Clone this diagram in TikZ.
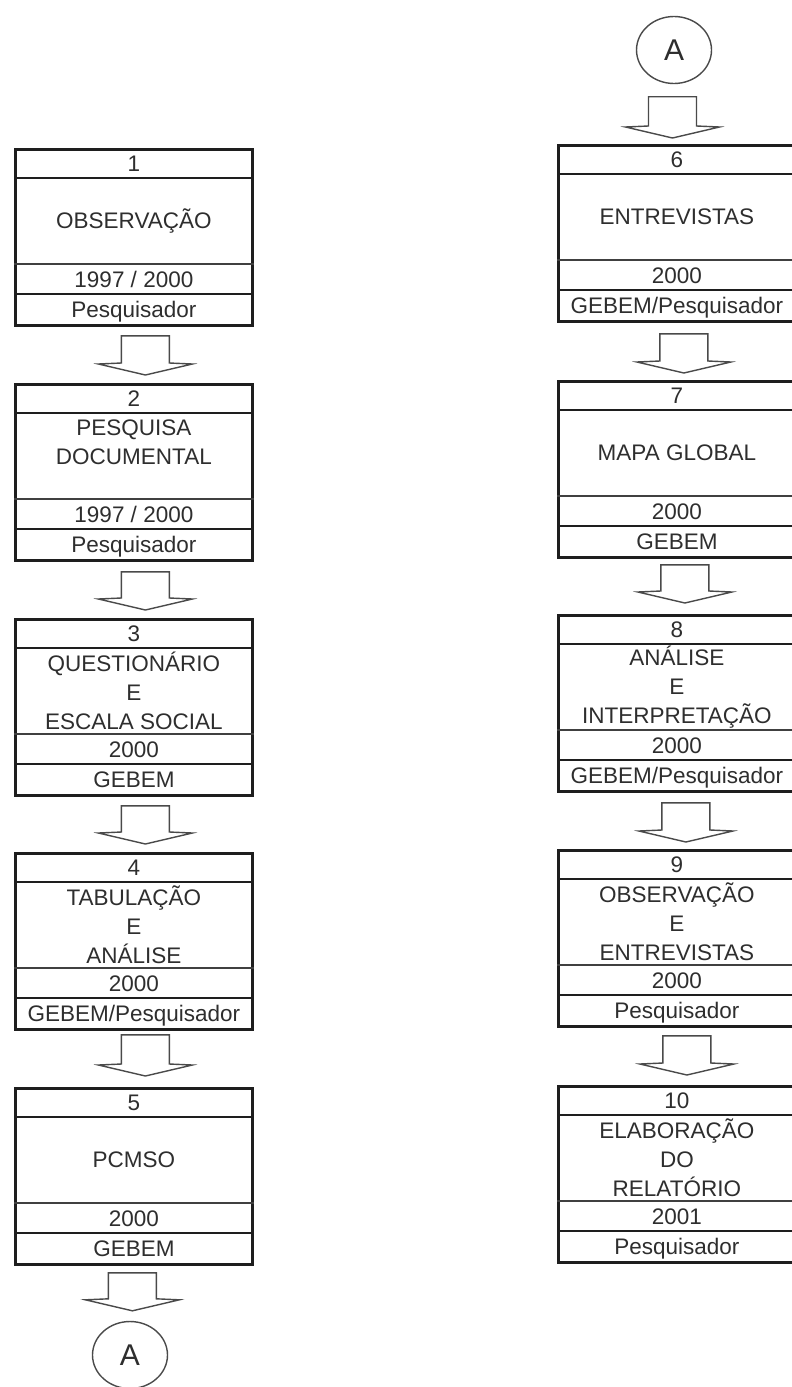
\documentclass[tikz,border=0pt]{standalone}
\usepackage{fontspec}
\setmainfont{Liberation Sans}
\usetikzlibrary{calc,shapes.geometric}
\definecolor{ink}{HTML}{1E1E1E}
\definecolor{txtc}{HTML}{2E2E2E}
\definecolor{arrc}{HTML}{4A4A4A}
\tikzset{
  stagebox/.style={draw=ink, line width=2.8pt, minimum width=237pt, minimum height=176pt, inner sep=0pt, anchor=north west},
  heavyrule/.style={draw=ink, line width=2.6pt},
  lightrule/.style={draw=ink!85, line width=1.3pt},
  rowtext/.style={text=txtc, font=\fontsize{22.5}{29}\selectfont, inner sep=0pt, anchor=base},
  maintext/.style={text=txtc, font=\fontsize{22.5}{29}\selectfont, inner sep=0pt, align=center},
  arrowline/.style={draw=arrc, line width=1.4pt, line join=miter},
  linkcircle/.style={draw=arrc, line width=1.4pt, ellipse, minimum width=75pt, minimum height=67pt, inner sep=0pt, text=txtc, font=\fontsize{30}{30}\selectfont},
}
% #1 name, #2 x left, #3 y top, #4 number, #5 main text, #6 year, #7 who, #8 main text shift
\newcommand\stage[8]{%
  \node[stagebox] (#1) at (#2,-#3) {};
  \draw[heavyrule] ($(#1.north west)+(0,-30)$) -- ($(#1.north east)+(0,-30)$);
  \draw[lightrule] ($(#1.north west)+(0,-116)$) -- ($(#1.north east)+(0,-116)$);
  \draw[heavyrule] ($(#1.north west)+(0,-146)$) -- ($(#1.north east)+(0,-146)$);
  \node[rowtext] (#1n) at ($(#1.north)+(0,-23)$) {#4};
  \node[maintext] (#1m) at ($(#1.north)+(0,-73+#8)$) {#5};
  \node[rowtext] (#1y) at ($(#1.north)+(0,-139)$) {#6};
  \node[rowtext] (#1w) at ($(#1.north)+(0,-169)$) {#7};
}
% #1 from, #2 to, #3 dx, #4 gap below from, #5 gap above to, #6 name
\newcommand\blockarrow[6]{%
  \coordinate (#6s) at ($(#1.south)+(#3,-#4)$);
  \coordinate (#6t) at ($(#2.north)+(#3,#5)$);
  \draw[arrowline] let \p1=(#6s), \p2=(#6t) in
    (\x1-24pt,\y1) -- (\x1-24pt,\y2+12pt) -- (\x1-47pt,\y2+11pt) -- (\x1,\y2)
    -- (\x1+47pt,\y2+11pt) -- (\x1+24pt,\y2+12pt) -- (\x1+24pt,\y1) -- cycle;
}
\begin{document}
\begin{tikzpicture}[x=1pt,y=1pt]
\useasboundingbox (0,0) rectangle (792,-1387);
\fill[white] (0,0) rectangle (792,-1387);

% left column
\stage{b1}{14}{148}{1}{OBSERVAÇÃO}{1997 / 2000}{Pesquisador}{0}
\stage{b2}{14}{383}{2}{PESQUISA\\DOCUMENTAL}{1997 / 2000}{Pesquisador}{14}
\stage{b3}{14}{618}{3}{QUESTIONÁRIO\\E\\ESCALA SOCIAL}{2000}{GEBEM}{0}
\stage{b4}{14}{852}{4}{TABULAÇÃO\\E\\ANÁLISE}{2000}{GEBEM/Pesquisador}{0}
\stage{b5}{14}{1087}{5}{PCMSO}{2000}{GEBEM}{0}
\node[linkcircle] (A1) at (130,-1355) {A};

% right column
\node[linkcircle] (A2) at (674,-50) {A};
\stage{b6}{557}{144}{6}{ENTREVISTAS}{2000}{GEBEM/Pesquisador}{0}
\stage{b7}{557}{380}{7}{MAPA GLOBAL}{2000}{GEBEM}{0}
\stage{b8}{557}{614}{8}{ANÁLISE\\E\\INTERPRETAÇÃO}{2000}{GEBEM/Pesquisador}{0}
\stage{b9}{557}{849}{9}{OBSERVAÇÃO\\E\\ENTREVISTAS}{2000}{Pesquisador}{0}
\stage{b10}{557}{1085}{10}{ELABORAÇÃO\\DO\\RELATÓRIO}{2001}{Pesquisador}{0}

% arrows
\blockarrow{b1}{b2}{11.5}{9}{8}{a12}
\blockarrow{b2}{b3}{11.5}{10}{8}{a23}
\blockarrow{b3}{b4}{11.5}{9}{8}{a34}
\blockarrow{b4}{b5}{11.5}{4}{11}{a45}
\blockarrow{b5}{A1}{-1.5}{7}{10}{a5A}
\blockarrow{A2}{b6}{-1.5}{12.5}{6}{aA6}
\blockarrow{b6}{b7}{7}{11}{7}{a67}
\blockarrow{b7}{b8}{8}{6}{11}{a78}
\blockarrow{b8}{b9}{9}{10}{7}{a89}
\blockarrow{b9}{b10}{10}{8}{10}{a910}
\end{tikzpicture}
\end{document}
